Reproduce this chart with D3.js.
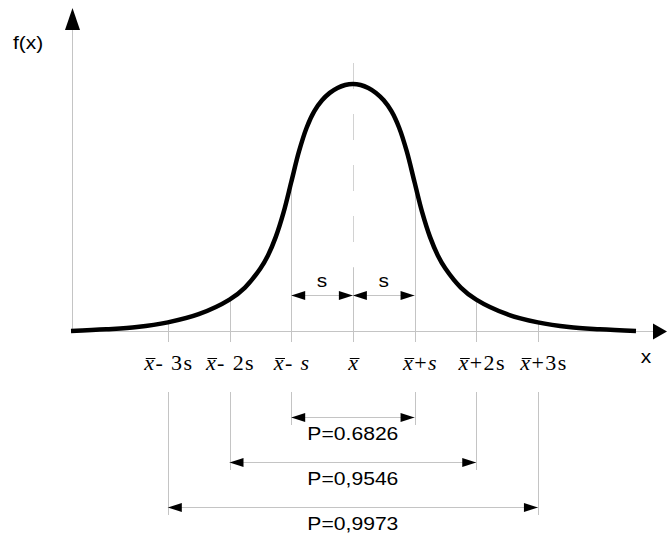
<!DOCTYPE html>
<html>
<head>
<meta charset="utf-8">
<script src="https://cdn.jsdelivr.net/npm/d3@7"></script>
<style>
body { margin: 0; background: #fff; }
text { white-space: pre; }
</style>
</head>
<body>
<svg id="chart" width="667" height="536"></svg>
<script>
// bell curve: position in units of s from the mean, relative height
let curveU = [-4.57, -4, -3.5, -3, -2.5, -2, -1.75, -1.5, -1.375, -1.25, -1.125, -1, -0.875, -0.75, -0.625, -0.5, -0.375, -0.25, -0.125, 0,
              0.125, 0.25, 0.375, 0.5, 0.625, 0.75, 0.875, 1, 1.125, 1.25, 1.375, 1.5, 1.75, 2, 2.5, 3, 3.5, 4, 4.59];
let curveF = [0, 0.007, 0.016, 0.035, 0.068, 0.127, 0.176, 0.253, 0.307, 0.381, 0.479, 0.602, 0.726, 0.823, 0.890, 0.934, 0.964, 0.984, 0.996, 1,
              0.996, 0.984, 0.964, 0.934, 0.890, 0.823, 0.726, 0.602, 0.479, 0.381, 0.307, 0.253, 0.176, 0.127, 0.068, 0.035, 0.016, 0.007, 0];

// marks on the x axis and their labels ("x" = x with bar, "i" = italic, "n" = upright)
let markK = [-3, -2, -1, 0, 1, 2, 3];
let markLabels = [
    [["x", "x"], ["- 3s", "n"]],
    [["x", "x"], ["- 2s", "n"]],
    [["x", "x"], ["- ", "n"], ["s", "i"]],
    [["x", "x"]],
    [["x", "x"], ["+", "n"], ["s", "i"]],
    [["x", "x"], ["+2s", "n"]],
    [["x", "x"], ["+3s", "n"]]
];

// probability intervals below the axis
let intervalK = [1, 2, 3];
let intervalLabels = ["P=0.6826", "P=0,9546", "P=0,9973"];

let sLabel = "s";
let yLabel = "f(x)";
let xLabel = "x";

let svg = d3.select("#chart");
let grey = "#c4c4c4";
let sans = "'Liberation Sans', Arial, sans-serif";
let serif = "'Liberation Serif', 'Times New Roman', serif";

let x = d3.scaleLinear().domain([-4.57, 4.59]).range([71, 636]);
let y = d3.scaleLinear().domain([0, 1]).range([331, 84]);

function fAt(k) {
    return curveF[curveU.indexOf(k)];
}

// filled arrow head with its tip at (tx, ty), dir = 'l', 'r' or 'u'
function head(tx, ty, dir, len, half) {
    let pts;
    if (dir == 'r') pts = [[tx, ty], [tx - len, ty - half], [tx - len, ty + half]];
    else if (dir == 'l') pts = [[tx, ty], [tx + len, ty - half], [tx + len, ty + half]];
    else pts = [[tx, ty], [tx - half, ty + len], [tx + half, ty + len]];
    svg.append("path").attr("d", "M" + pts.join("L") + "Z").attr("fill", "#000");
}

function vline(px, y1, y2, color) {
    return svg.append("line")
        .attr("x1", Math.round(px) + 0.5).attr("x2", Math.round(px) + 0.5)
        .attr("y1", y1).attr("y2", y2)
        .attr("stroke", color || grey).attr("stroke-width", 1);
}

function dimArrow(x1, x2, ay) {
    svg.append("line")
        .attr("x1", x1).attr("x2", x2)
        .attr("y1", ay + 0.5).attr("y2", ay + 0.5)
        .attr("stroke", grey).attr("stroke-width", 1);
    head(x1, ay + 0.5, 'l', 14, 4.5);
    head(x2, ay + 0.5, 'r', 14, 4.5);
}

function sansText(str, cx, by) {
    // the reference lettering is a little wider than Arial
    return svg.append("text")
        .attr("transform", "translate(" + cx + "," + by + ") scale(1.16,1)")
        .attr("text-anchor", "middle")
        .attr("font-family", sans)
        .attr("font-size", 18)
        .attr("fill", "#000")
        .text(str);
}

// axes
svg.append("line")
    .attr("x1", x(-4.57)).attr("x2", 655)
    .attr("y1", y(0) + 0.5).attr("y2", y(0) + 0.5)
    .attr("stroke", grey);
head(667, y(0) + 0.5, 'r', 14, 8);
vline(x(-4.57) + 1, 28, y(0));
head(x(-4.57) + 1.5, 8, 'u', 22, 7.5);

// mean line (dashed) and its extension for the s dimension
vline(x(0), 63, y(0), "#d2d2d2").attr("stroke-dasharray", "26,25");
vline(x(0), 268, 342);

// mark lines from the curve to just below the axis
markK.filter(k => k != 0).forEach(k => {
    vline(x(k), y(fAt(k)), 342);
});

// extension lines below the axis
intervalK.forEach((k, i) => {
    vline(x(-k), 392, 425 + i * 45);
    vline(x(k), 392, 425 + i * 45);
});

// curve
let line = d3.line()
    .x((d, i) => x(curveU[i]))
    .y(d => y(d))
    .curve(d3.curveCatmullRom.alpha(0.5));
svg.append("path")
    .attr("d", line(curveF))
    .attr("fill", "none")
    .attr("stroke", "#000")
    .attr("stroke-width", 4.5)
    .attr("stroke-linecap", "butt");

// s dimensions
dimArrow(x(-1), x(0), 295);
dimArrow(x(0), x(1), 295);
sansText(sLabel, (x(-1) + x(0)) / 2, 287);
sansText(sLabel, (x(0) + x(1)) / 2, 287);

// axis titles
svg.append("text")
    .attr("transform", "translate(13,49) scale(1.16,1)")
    .attr("font-family", sans).attr("font-size", 18)
    .text(yLabel);
sansText(xLabel, 646, 363);

// mark labels
markK.forEach((k, i) => {
    let t = svg.append("text")
        .attr("x", x(k) + (k > 0 ? 6 : 1))
        .attr("y", 370)
        .attr("text-anchor", "middle")
        .attr("font-family", serif)
        .attr("font-size", 22)
        .attr("letter-spacing", 1.4)
        .attr("fill", "#000");
    markLabels[i].forEach(p => {
        t.append("tspan")
            .attr("font-style", p[1] == "n" ? "normal" : "italic")
            .text(p[0]);
    });
    let box = t.node().getExtentOfChar(0);
    svg.append("line")
        .attr("x1", box.x + 1.5).attr("x2", box.x + box.width)
        .attr("y1", 358.5).attr("y2", 358.5)
        .attr("stroke", "#000").attr("stroke-width", 1);
});

// probability intervals
intervalK.forEach((k, i) => {
    dimArrow(x(-k), x(k), 417 + i * 45);
    svg.append("text")
        .attr("x", x(0))
        .attr("y", 440 + i * 45)
        .attr("text-anchor", "middle")
        .attr("font-family", sans)
        .attr("font-size", 18)
        .attr("textLength", 91)
        .attr("lengthAdjust", "spacingAndGlyphs")
        .text(intervalLabels[i]);
});
</script>
</body>
</html>
